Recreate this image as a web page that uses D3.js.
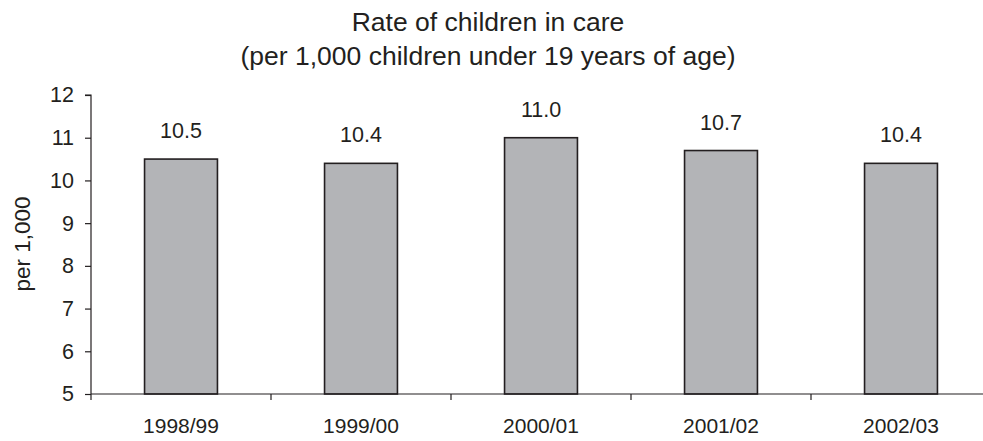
<!DOCTYPE html>
<html><head><meta charset="utf-8">
<script src="https://cdn.jsdelivr.net/npm/d3@7"></script>
<style>body{margin:0;background:#fff}svg{display:block}text{font-family:"Liberation Sans",Arial,sans-serif;fill:#231f20}</style>
</head><body>
<svg id="c" width="983" height="441"></svg>
<script>
const categories = ["1998/99","1999/00","2000/01","2001/02","2002/03"];
const values = [10.5,10.4,11.0,10.7,10.4];
const valueLabels = ["10.5","10.4","11.0","10.7","10.4"];
const yTicks = [5,6,7,8,9,10,11,12];
const titleLines = ["Rate of children in care","(per 1,000 children under 19 years of age)"];
const yTitle = "per 1,000";

const svg = d3.select("#c");
const mLeft = 91, mRight = 991, mTop = 95, mBottom = 394;
const x = d3.scaleBand().domain(categories).range([mLeft,mRight]).paddingInner(0.595).paddingOuter(0.2975);
const y = d3.scaleLinear().domain([5,12]).range([mBottom,mTop]);

svg.selectAll("rect.bar").data(values).join("rect").attr("class","bar")
  .attr("x",(d,i)=>x(categories[i])).attr("width",x.bandwidth())
  .attr("y",d=>y(d)).attr("height",d=>y(5)-y(d))
  .attr("fill","#b3b4b7").attr("stroke","#231f20").attr("stroke-width",1.6);

// y axis
const ya = svg.append("g").attr("transform",`translate(${mLeft},0)`)
  .call(d3.axisLeft(y).tickValues(yTicks).tickSize(6).tickPadding(11).tickFormat(d3.format("d")));
ya.select(".domain").attr("stroke","#231f20").attr("stroke-width",1.2).attr("d",`M-6,${mTop}H0V${mBottom}`);
ya.selectAll("line").attr("stroke","#231f20").attr("stroke-width",1.2);
ya.selectAll("text").style("font-size","21.5px").attr("fill","#231f20");

// x axis
const step = x.step();
const xa = svg.append("g").attr("transform",`translate(0,${mBottom})`);
xa.append("line").attr("x1",mLeft).attr("x2",983).attr("stroke","#231f20").attr("stroke-width",1.2);
const bounds = d3.range(categories.length+1).map(i=>mLeft+i*step);
xa.selectAll("line.t").data(bounds).join("line").attr("class","t")
  .attr("x1",d=>d).attr("x2",d=>d).attr("y1",0).attr("y2",6).attr("stroke","#231f20").attr("stroke-width",1.2);
xa.selectAll("text").data(categories).join("text")
  .attr("x",d=>x(d)+x.bandwidth()/2).attr("y",39).attr("text-anchor","middle")
  .style("font-size","21px").text(d=>d);

// value labels
svg.selectAll("text.val").data(values).join("text").attr("class","val")
  .attr("x",(d,i)=>x(categories[i])+x.bandwidth()/2).attr("y",d=>y(d)-21)
  .attr("text-anchor","middle").style("font-size","21.5px").text((d,i)=>valueLabels[i]);

// titles
svg.selectAll("text.title").data(titleLines).join("text").attr("class","title")
  .attr("x",488).attr("y",(d,i)=>31+i*34).attr("text-anchor","middle")
  .style("font-size","26.5px").text(d=>d);

svg.append("text").attr("transform",`translate(30,244) rotate(-90)`)
  .attr("text-anchor","middle").style("font-size","22.5px").text(yTitle);
</script>
</body></html>
